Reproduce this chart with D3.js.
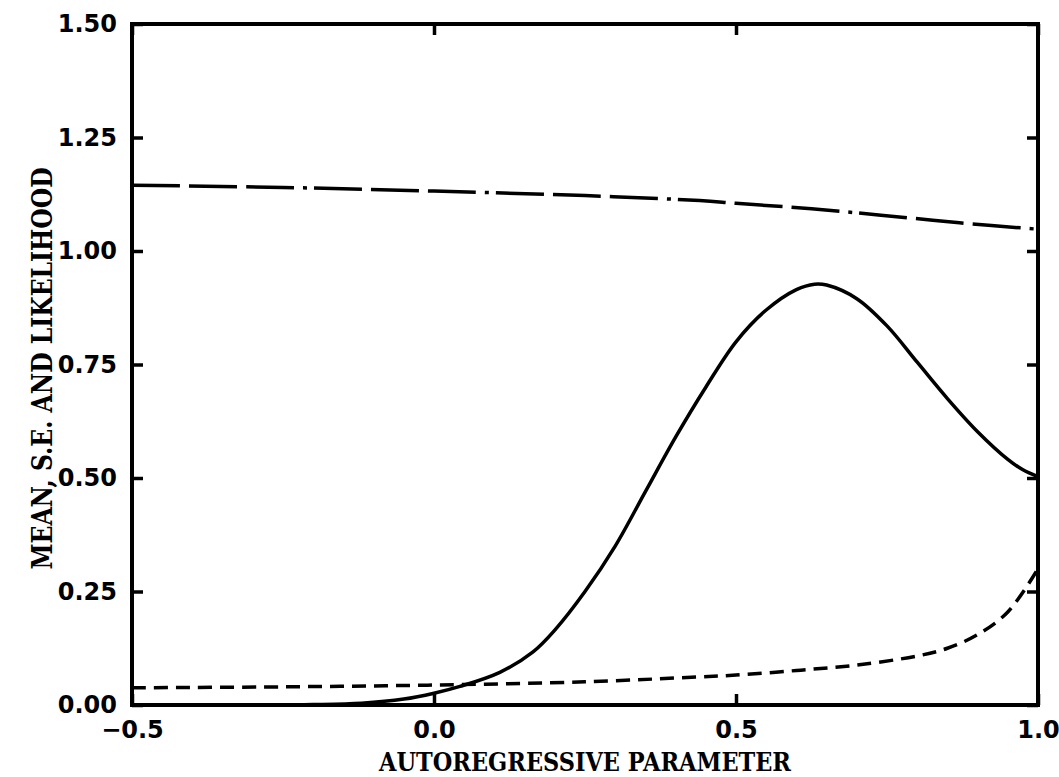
<!DOCTYPE html>
<html>
<head>
<meta charset="utf-8">
<script src="https://cdn.jsdelivr.net/npm/d3@7"></script>
<style>
html,body{margin:0;padding:0;background:#fff;}
svg{display:block;}
</style>
</head>
<body>
<svg id="chart" width="1059" height="777"></svg>
<script>
// ---- data ----
const xTicks = [-0.5, 0.0, 0.5, 1.0];
const xTickLabels = ["\u22120.5", "0.0", "0.5", "1.0"];
const yTicks = [0, 0.25, 0.5, 0.75, 1.0, 1.25, 1.5];
const yTickLabels = ["0.00", "0.25", "0.50", "0.75", "1.00", "1.25", "1.50"];
const xTitle = "AUTOREGRESSIVE PARAMETER";
const yTitle = "MEAN, S.E. AND LIKELIHOOD";

// long-dash-dot series
const seX = [-0.5, -0.25, 0.0, 0.25, 0.44, 0.5, 0.625, 0.74, 0.87, 1.0];
const seY = [1.145, 1.140, 1.132, 1.122, 1.111, 1.105, 1.093, 1.079, 1.062, 1.048];

// solid likelihood series
const likX = [-0.5, -0.3, -0.2, -0.12, -0.05, 0.0, 0.043, 0.109, 0.164, 0.2, 0.25, 0.3, 0.35, 0.4, 0.45, 0.5, 0.55, 0.6, 0.63, 0.65, 0.7, 0.75, 0.8, 0.85, 0.9, 0.95, 0.975, 1.0];
const likY = [0.0, 0.0, 0.001, 0.004, 0.013, 0.026, 0.041, 0.072, 0.117, 0.165, 0.25, 0.35, 0.47, 0.59, 0.70, 0.80, 0.87, 0.915, 0.927, 0.925, 0.895, 0.835, 0.755, 0.675, 0.602, 0.541, 0.518, 0.503];

// short-dash mean series
const meanX = [-0.5, -0.25, 0.0, 0.25, 0.44, 0.5, 0.6, 0.7, 0.8, 0.85, 0.9, 0.95, 1.0];
const meanY = [0.038, 0.040, 0.044, 0.051, 0.062, 0.066, 0.076, 0.088, 0.108, 0.125, 0.155, 0.205, 0.30];

// ---- layout ----
const L = 132, R = 1038, T = 24, B = 705;
const svg = d3.select("#chart");
const x = d3.scaleLinear().domain([-0.5, 1.0]).range([L, R]);
const y = d3.scaleLinear().domain([0, 1.5]).range([B, T]);

const line = d3.line().x(d => x(d[0])).y(d => y(d[1])).curve(d3.curveCatmullRom.alpha(0.5));
const zip = (a, b) => a.map((v, i) => [v, b[i]]);

// curves
svg.append("path").datum(zip(seX, seY)).attr("d", line)
  .attr("fill", "none").attr("stroke", "#000").attr("stroke-width", 3.5)
  .attr("stroke-dasharray", "48,9,48,9,48,9,4,7");
svg.append("path").datum(zip(meanX, meanY)).attr("d", line)
  .attr("fill", "none").attr("stroke", "#000").attr("stroke-width", 3.5)
  .attr("stroke-dasharray", "14,8");
svg.append("path").datum(zip(likX, likY)).attr("d", line)
  .attr("fill", "none").attr("stroke", "#000").attr("stroke-width", 3.5);

// axes
const tickFont = "'DejaVu Sans', sans-serif";
function styleAxis(g) {
  g.select(".domain").remove();
  g.selectAll(".tick line").attr("stroke", "#000").attr("stroke-width", 3.5);
  g.selectAll(".tick text").attr("font-family", tickFont).attr("font-weight", "bold")
    .attr("font-size", 24).attr("fill", "#000");
}
svg.append("g").attr("transform", `translate(${L},0)`)
  .call(d3.axisLeft(y).tickValues(yTicks).tickSize(-11).tickPadding(15)
    .tickFormat((d, i) => yTickLabels[i]))
  .call(styleAxis);
svg.append("g").attr("transform", `translate(${R},0)`)
  .call(d3.axisRight(y).tickValues(yTicks).tickSize(-11).tickFormat(""))
  .call(styleAxis);
svg.append("g").attr("transform", `translate(0,${B})`)
  .call(d3.axisBottom(x).tickValues(xTicks).tickSize(-11).tickPadding(16)
    .tickFormat((d, i) => xTickLabels[i]))
  .call(styleAxis);
svg.append("g").attr("transform", `translate(0,${T})`)
  .call(d3.axisTop(x).tickValues(xTicks).tickSize(-11).tickFormat(""))
  .call(styleAxis);

// frame
svg.append("rect").attr("x", L).attr("y", T).attr("width", R - L).attr("height", B - T)
  .attr("fill", "none").attr("stroke", "#000").attr("stroke-width", 4);

// titles
const titleFont = "'DejaVu Serif', 'Liberation Serif', serif";
svg.append("text").attr("x", (L + R) / 2).attr("y", 771)
  .attr("text-anchor", "middle").attr("font-family", titleFont).attr("font-weight", "bold")
  .attr("font-size", 26).attr("textLength", 412).attr("lengthAdjust", "spacingAndGlyphs")
  .text(xTitle);
svg.append("text").attr("transform", `translate(52,${(T + B) / 2 + 4}) rotate(-90)`)
  .attr("text-anchor", "middle").attr("font-family", titleFont).attr("font-weight", "bold")
  .attr("font-size", 27).attr("textLength", 402).attr("lengthAdjust", "spacingAndGlyphs")
  .text(yTitle);
</script>
</body>
</html>
